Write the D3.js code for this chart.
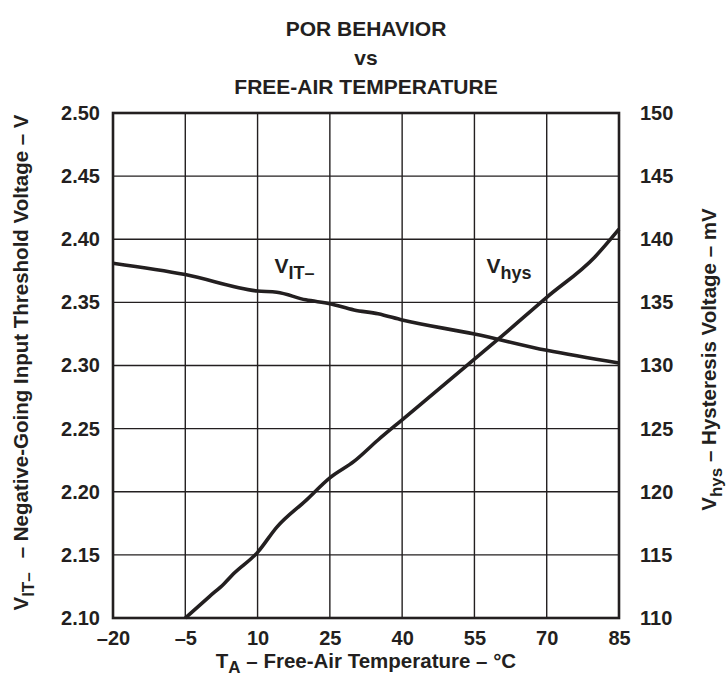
<!DOCTYPE html>
<html>
<head>
<meta charset="utf-8">
<script src="https://cdn.jsdelivr.net/npm/d3@7"></script>
<style>
  body { margin: 0; background: #fff; }
  text { font-family: "Liberation Sans", Arial, sans-serif; font-weight: bold; fill: #231f20; }
</style>
</head>
<body>
<div id="wrapper"></div>
<script>
// valores
const tempTicks = [-20, -5, 10, 25, 40, 55, 70, 85];
const vitTicks = [2.10, 2.15, 2.20, 2.25, 2.30, 2.35, 2.40, 2.45, 2.50];
const hysTicks = [110, 115, 120, 125, 130, 135, 140, 145, 150];

const vitTemp = [-20, -5, 10, 14, 20, 25, 30, 35, 40, 55, 70, 85];
const vitValues = [2.381, 2.372, 2.359, 2.358, 2.352, 2.349, 2.344, 2.341, 2.336, 2.325, 2.312, 2.302];

const hysTemp = [-5, 0, 3, 5, 10, 14, 20, 25, 30, 35, 40, 55, 60, 70, 80, 85];
const hysValues = [110, 111.7, 112.7, 113.5, 115.2, 117.2, 119.3, 121.1, 122.4, 124.1, 125.7, 130.5, 132.1, 135.4, 138.6, 140.8];

function draw() {
  const dimensions = {
    width: 728,
    height: 682,
    margin: { top: 113, right: 109, bottom: 64, left: 113 }
  };
  const w = dimensions.width - dimensions.margin.left - dimensions.margin.right;
  const h = dimensions.height - dimensions.margin.top - dimensions.margin.bottom;

  const svg = d3.select("#wrapper")
    .append("svg")
      .attr("width", dimensions.width)
      .attr("height", dimensions.height);

  const bounds = svg.append("g")
    .attr("transform", "translate(" + dimensions.margin.left + "," + dimensions.margin.top + ")");

  const x = d3.scaleLinear().domain([-20, 85]).range([0, w]);
  const yL = d3.scaleLinear().domain([2.10, 2.50]).range([h, 0]);
  const yR = d3.scaleLinear().domain([110, 150]).range([h, 0]);

  // grade
  bounds.append("g")
    .selectAll("line")
    .data(tempTicks)
    .enter()
    .append("line")
    .attr("x1", d => x(d))
    .attr("x2", d => x(d))
    .attr("y1", 0)
    .attr("y2", h)
    .attr("stroke", "#231f20")
    .attr("stroke-width", 1.4);
  bounds.append("g")
    .selectAll("line")
    .data(vitTicks)
    .enter()
    .append("line")
    .attr("x1", 0)
    .attr("x2", w)
    .attr("y1", d => yL(d))
    .attr("y2", d => yL(d))
    .attr("stroke", "#231f20")
    .attr("stroke-width", 1.4);

  bounds.append("rect")
    .attr("width", w)
    .attr("height", h)
    .attr("fill", "none")
    .attr("stroke", "#231f20")
    .attr("stroke-width", 2.6);

  // eixos
  const axisL = d3.axisLeft(yL).tickValues(vitTicks).tickFormat(d3.format(".2f")).tickSize(0).tickPadding(13);
  const axisR = d3.axisRight(yR).tickValues(hysTicks).tickSize(0).tickPadding(21);
  const axisB = d3.axisBottom(x).tickValues(tempTicks).tickFormat(d => d < 0 ? "\u2013" + Math.abs(d) : d).tickSize(0).tickPadding(13);

  const styleAxis = g => {
    g.select(".domain").remove();
    g.selectAll("text").attr("font-size", 20).attr("font-family", "Liberation Sans, Arial, sans-serif").attr("font-weight", "bold").attr("fill", "#231f20");
  };
  bounds.append("g").call(axisL).call(styleAxis);
  bounds.append("g").attr("transform", "translate(" + w + ",0)").call(axisR).call(styleAxis);
  bounds.append("g").attr("transform", "translate(0," + h + ")").call(axisB).call(styleAxis);

  // curvas
  const line = d3.line().curve(d3.curveMonotoneX);
  bounds.append("path")
    .attr("d", line(vitTemp.map((t, i) => [x(t), yL(vitValues[i])])))
    .attr("stroke", "#231f20")
    .attr("stroke-width", 3.6)
    .attr("fill", "none");
  bounds.append("path")
    .attr("d", line(hysTemp.map((t, i) => [x(t), yR(hysValues[i])])))
    .attr("stroke", "#231f20")
    .attr("stroke-width", 3.6)
    .attr("fill", "none");

  // rotulos das curvas
  const lab1 = bounds.append("text").attr("x", x(13.5)).attr("y", yL(2.373)).attr("font-size", 21);
  lab1.append("tspan").text("V");
  lab1.append("tspan").attr("dy", 6).attr("font-size", 18).text("IT\u2013");
  const lab2 = bounds.append("text").attr("x", x(57.5)).attr("y", yL(2.373)).attr("font-size", 21);
  lab2.append("tspan").text("V");
  lab2.append("tspan").attr("dy", 6).attr("font-size", 18).text("hys");

  // titulo
  const title = ["POR BEHAVIOR", "vs", "FREE-AIR TEMPERATURE"];
  svg.append("g")
    .selectAll("text")
    .data(title)
    .enter()
    .append("text")
    .attr("x", 366)
    .attr("y", (d, i) => 36 + i * 29)
    .attr("text-anchor", "middle")
    .attr("font-size", 21)
    .text(d => d);

  // titulos dos eixos
  const xt = svg.append("text").attr("x", 366).attr("y", 668).attr("text-anchor", "middle").attr("font-size", 20.5);
  xt.append("tspan").text("T");
  xt.append("tspan").attr("dy", 5).attr("font-size", 17).text("A");
  xt.append("tspan").attr("dy", -5).text(" \u2013 Free-Air Temperature \u2013 \u00b0C");

  const yt = svg.append("text")
    .attr("transform", "translate(28," + (dimensions.margin.top + h / 2 - 3) + ") rotate(-90)")
    .attr("text-anchor", "middle")
    .attr("font-size", 20.5);
  yt.append("tspan").text("V");
  yt.append("tspan").attr("dy", 6).attr("font-size", 17).text("IT\u2013");
  yt.append("tspan").attr("dy", -6).attr("dx", 14).text("\u2013 Negative-Going Input Threshold Voltage \u2013 V");

  const yt2 = svg.append("text")
    .attr("transform", "translate(716," + (dimensions.margin.top + h / 2 - 6) + ") rotate(-90)")
    .attr("text-anchor", "middle")
    .attr("font-size", 20.5);
  yt2.append("tspan").text("V");
  yt2.append("tspan").attr("dy", 6).attr("font-size", 17).text("hys");
  yt2.append("tspan").attr("dy", -6).text(" \u2013 Hysteresis Voltage \u2013 mV");
}
draw();
</script>
</body>
</html>
